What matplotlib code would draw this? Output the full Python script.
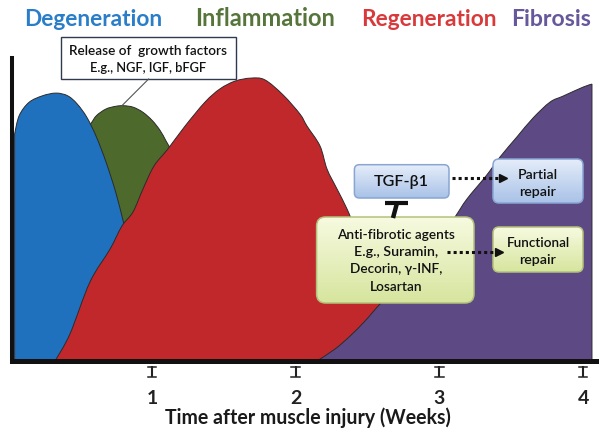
import numpy as np
import matplotlib
matplotlib.use('Agg')
import matplotlib.pyplot as plt
from matplotlib.patches import FancyBboxPatch, Rectangle, PathPatch
from matplotlib.path import Path
from matplotlib.colors import LinearSegmentedColormap
from matplotlib.transforms import blended_transform_factory

plt.rcParams['font.family'] = ['Lato', 'DejaVu Sans']

# ---------------- data ----------------
phases = ['Degeneration', 'Inflammation', 'Regeneration', 'Fibrosis']
phase_text_colors = ['#2a7dc8', '#56753a', '#d83a3c', '#67579b']
phase_fill_colors = ['#1f71bd', '#4d6a2c', '#c1282c', '#5d4984']

# relative level (%) vs. weeks after injury
degeneration_weeks = [0.044, 0.044, 0.076, 0.144, 0.238, 0.332, 0.413, 0.479, 0.547,
                      0.614, 0.681, 0.748, 0.802, 0.856, 0.923, 0.990, 1.044]
degeneration_level = [0.0, 75.7, 81.8, 86.2, 88.4, 89.3, 88.4, 85.7, 81.2,
                      74.6, 66.2, 56.2, 46.2, 36.2, 22.9, 9.6, 0.0]

inflammation_weeks = [0.464, 0.464, 0.499, 0.573, 0.614, 0.680, 0.748, 0.802, 0.869,
                      0.937, 1.003, 1.057, 1.097, 1.138, 1.181, 1.230, 1.264, 1.278]
inflammation_level = [0.0, 54.0, 74.0, 79.0, 81.8, 84.0, 84.9, 85.1, 84.6,
                      82.9, 80.1, 76.8, 73.4, 69.6, 62.3, 47.3, 20.7, 0.0]

regeneration_weeks = [0.325, 0.429, 0.568, 0.708, 0.791, 0.868, 0.937, 1.014, 1.111,
                      1.230, 1.369, 1.473, 1.578, 1.689, 1.786, 1.912, 2.030, 2.079,
                      2.169, 2.218, 2.288, 2.357, 2.413, 2.482, 2.552, 2.622, 2.670]
regeneration_level = [0.0, 9.0, 26.3, 37.3, 45.0, 49.7, 57.3, 65.0, 70.7,
                      78.3, 86.3, 90.7, 93.3, 94.3, 93.7, 88.7, 82.3, 78.3,
                      71.7, 64.0, 57.3, 50.7, 44.0, 34.0, 24.0, 14.0, 0.0]

fibrosis_weeks = [2.148, 2.274, 2.378, 2.482, 2.587, 2.727, 2.865, 3.005, 3.109,
                  3.192, 3.325, 3.422, 3.540, 3.652, 3.770, 3.861, 4.000, 4.062, 4.062]
fibrosis_level = [0.0, 4.0, 8.3, 13.3, 19.0, 25.7, 33.3, 40.7, 48.0,
                  54.0, 61.7, 68.0, 74.7, 81.0, 86.3, 88.3, 91.3, 92.3, 0.0]

week_ticks = [1, 2, 3, 4]
week_labels = ['1', '2', '3', '4']
x_label = 'Time after muscle injury (Weeks)'

growth_box_text = ['Release of  growth factors', 'E.g., NGF, IGF, bFGF']
tgf_text = 'TGF-β1'
antifib_text = ['Anti-fibrotic agents', 'E.g., Suramin,', 'Decorin, γ-INF,', 'Losartan']
partial_text = ['Partial', 'repair']
functional_text = ['Functional', 'repair']

# ---------------- figure ----------------
W, H = 602, 435
fig = plt.figure(figsize=(W / 100, H / 100), dpi=100)
fig.patch.set_facecolor('white')

ax = fig.add_axes([11.6 / W, (H - 362) / H, (596 - 11.6) / W, 303 / H])
ax.set_xlim(0.023, 4.09)
ax.set_ylim(0, 101)
ax.set_facecolor('white')


def smooth_shape(xs, ys):
    """Closed outline through the points: vertical edges straight, the rest smooth."""
    P = np.column_stack([xs, ys]).astype(float)
    n = len(P)
    straight = [abs(P[i + 1, 0] - P[i, 0]) < 1e-9 for i in range(n - 1)]
    verts = [P[0]]
    codes = [Path.MOVETO]
    for i in range(n - 1):
        p1, p2 = P[i], P[i + 1]
        if straight[i]:
            verts.append(p2)
            codes.append(Path.LINETO)
            continue
        p0 = p1 if (i == 0 or straight[i - 1]) else P[i - 1]
        p3 = p2 if (i + 2 >= n or straight[i + 1]) else P[i + 2]
        c1 = p1 + (p2 - p0) / 6.0
        c2 = p2 - (p3 - p1) / 6.0
        verts += [c1, c2, p2]
        codes += [Path.CURVE4] * 3
    verts.append(P[0])
    codes.append(Path.CLOSEPOLY)
    return Path(np.array(verts), codes)


shapes = [
    (inflammation_weeks, inflammation_level, phase_fill_colors[1]),
    (degeneration_weeks, degeneration_level, phase_fill_colors[0]),
    (regeneration_weeks, regeneration_level, phase_fill_colors[2]),
    (fibrosis_weeks, fibrosis_level, phase_fill_colors[3]),
]
for i, (xs, ys, c) in enumerate(shapes):
    ax.add_patch(PathPatch(smooth_shape(xs, ys), facecolor=c, edgecolor='#2b2b2b',
                           linewidth=0.7, zorder=1 + i * 0.1))

for s in ['top', 'right']:
    ax.spines[s].set_visible(False)
ax.spines['left'].set_linewidth(2.9)
ax.spines['bottom'].set_linewidth(3.6)
ax.spines['left'].set_color('#111111')
ax.spines['bottom'].set_color('#111111')
ax.spines['bottom'].set_zorder(5)
ax.spines['left'].set_zorder(5)
ax.set_yticks([])
ax.set_xticks(week_ticks)
ax.set_xticklabels(week_labels, fontsize=14, fontweight='bold', color='#222222')
ax.tick_params(axis='x', length=0, pad=20)

# overlay in pixel coordinates for annotations
ov = fig.add_axes([0, 0, 1, 1], zorder=3)
ov.set_xlim(0, W)
ov.set_ylim(H, 0)
ov.axis('off')
ov.patch.set_alpha(0)

# I-beam tick marks
bt = blended_transform_factory(ax.transData, ov.transData)
for wk in week_ticks:
    ov.plot([wk, wk], [367, 377.5], color='#222222', lw=1.5, transform=bt, solid_capstyle='butt')
    ov.plot([wk - 0.03, wk + 0.03], [367.5, 367.5], color='#222222', lw=1.1, transform=bt)
    ov.plot([wk - 0.03, wk + 0.03], [377.5, 377.5], color='#222222', lw=1.1, transform=bt)

fig.canvas.draw()
rend = fig.canvas.get_renderer()


def fit_text(x, y, s, width, color='#111111', weight='normal', base=12, **kw):
    t = ov.text(x, y, s, fontsize=base, color=color, fontweight=weight,
                ha='center', va='center', zorder=6, **kw)
    w = t.get_window_extent(rend).width
    t.set_fontsize(base * width / w)
    return t


# phase titles
title_centers = [93.5, 264.6, 428.5, 551.0]
title_widths = [137, 139, 135, 79]
for name, c, xc, wd in zip(phases, phase_text_colors, title_centers, title_widths):
    fit_text(xc, 19, name, wd, color=c, weight='bold')

# x label
fit_text(308, 418, x_label, 284, color='#1a1a1a', weight='bold')


def grad_box(x0, y0, x1, y1, ctop, cbot, ec, r):
    patch = FancyBboxPatch((x0, y0), x1 - x0, y1 - y0,
                           boxstyle=f"round,pad=0,rounding_size={r}",
                           fc='none', ec=ec, lw=1.1, zorder=4)
    ov.add_patch(patch)
    cmap = LinearSegmentedColormap.from_list('g', [ctop, cbot])
    grad = np.linspace(0, 1, 64).reshape(-1, 1)
    im = ov.imshow(grad, cmap=cmap, extent=(x0, x1, y1, y0), aspect='auto',
                   zorder=3.5, interpolation='bilinear')
    im.set_clip_path(patch)


BOXW = 'semibold'

# growth factor box
ov.add_patch(Rectangle((61, 38), 174.5, 42, fc='white', ec='#2e3b4e', lw=1.0, zorder=4))
fit_text(148, 51, growth_box_text[0], 158, weight=BOXW, base=10)
fit_text(148, 68, growth_box_text[1], 116, weight=BOXW, base=10)
ov.plot([148.6, 121.6], [80, 107], color='#555555', lw=0.8, zorder=4)

# TGF box
grad_box(354.4, 165.7, 449, 199, '#e6eefa', '#a9c2e7', '#89a6d2', 5)
fit_text(401.5, 182.5, tgf_text, 55, color='#111111', weight=BOXW, base=12)

# inhibition T
ov.plot([385, 408], [204, 204], color='#111111', lw=3.0, solid_capstyle='butt', zorder=5)
ov.plot([397, 393], [204, 219], color='#111111', lw=3.2, solid_capstyle='butt', zorder=5)

# anti-fibrotic box
grad_box(316.6, 218, 474, 304, '#f7fae0', '#d6e59e', '#b3c27a', 9)
for txt, yy, wd in zip(antifib_text, [235, 252, 269, 287], [118, 84, 92, 53]):
    fit_text(396, yy, txt, wd, weight=BOXW, base=10)

# partial / functional boxes
grad_box(493, 160, 583, 204, '#e6eefa', '#a9c2e7', '#89a6d2', 6)
fit_text(538, 175, partial_text[0], 40, weight=BOXW, base=10)
fit_text(538, 192, partial_text[1], 37, weight=BOXW, base=10)
grad_box(493, 228, 583, 273, '#f7fae0', '#d6e59e', '#b3c27a', 6)
fit_text(538, 243, functional_text[0], 63, weight=BOXW, base=10)
fit_text(538, 260, functional_text[1], 37, weight=BOXW, base=10)

# dotted arrows
for (xa, xb, yy) in [(452, 500, 179), (447, 496, 253)]:
    ov.plot([xa, xb], [yy, yy], color='#111111', lw=2.2, linestyle=(0, (1, 1)),
            dash_capstyle='butt', zorder=6)
    ov.plot([xb + 3], [yy], marker='>', markersize=6, color='#111111', zorder=6)

ov.set_xlim(0, W)
ov.set_ylim(H, 0)

fig.savefig('out.png', dpi=100)
